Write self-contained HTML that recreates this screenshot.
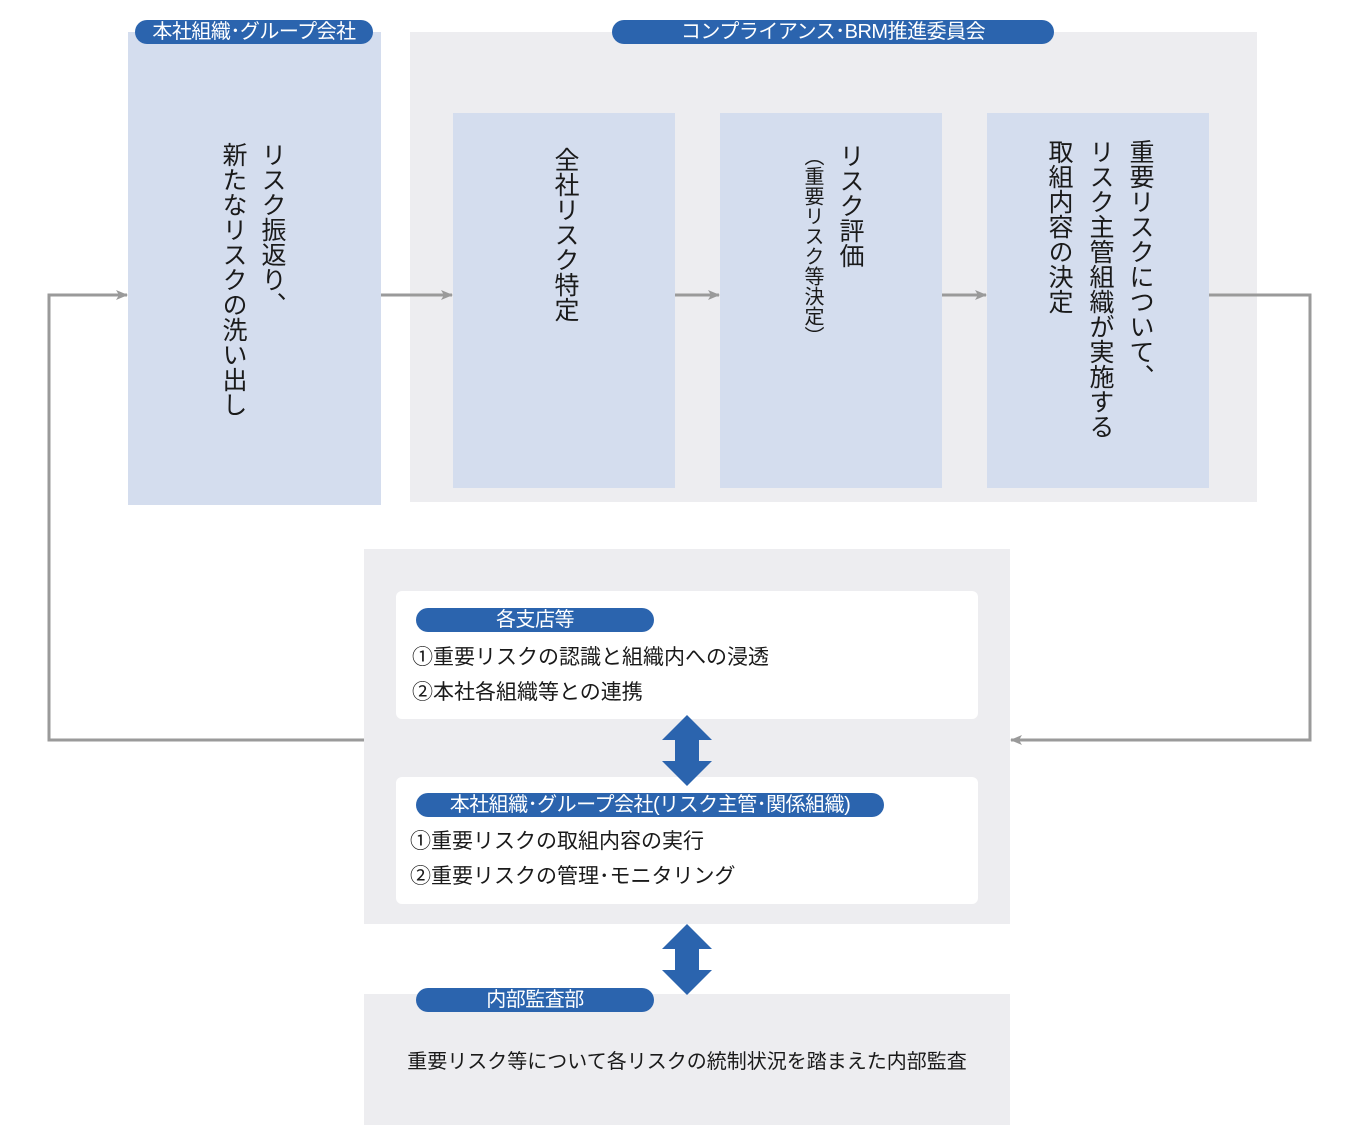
<!DOCTYPE html>
<html><head><meta charset="utf-8">
<style>
body{margin:0;width:1360px;height:1140px;background:#fff;position:relative;overflow:hidden;font-family:"Liberation Sans","Noto Sans CJK JP",sans-serif;color:#1a1a1a}
.a{position:absolute}
.blue{background:#d4ddee}
.gray{background:#ededf0}
.pill{position:absolute;background:#2b64ae;color:#fff;border-radius:12px;height:24px;line-height:24px;text-align:center;font-size:20px;white-space:nowrap;letter-spacing:-0.5px}
.v{position:absolute;writing-mode:vertical-rl;font-size:25px;line-height:26px;width:26px;white-space:nowrap}
.t{position:absolute;font-size:21px;white-space:nowrap;line-height:24px}
.w{position:absolute;background:#fff;border-radius:6px}
</style></head><body>
<div class="a blue" style="left:128px;top:32px;width:253px;height:473px"></div>
<div class="a gray" style="left:410px;top:32px;width:847px;height:470px"></div>
<div class="a blue" style="left:453px;top:113px;width:222px;height:375px"></div>
<div class="a blue" style="left:720px;top:113px;width:222px;height:375px"></div>
<div class="a blue" style="left:987px;top:113px;width:222px;height:375px"></div>
<div class="pill" style="left:135px;top:20px;width:238px">本社組織･グループ会社</div>
<div class="pill" style="left:612px;top:20px;width:442px">コンプライアンス･BRM推進委員会</div>

<div class="v" style="left:259px;top:142px">リスク振返り、</div>
<div class="v" style="left:220px;top:142px">新たなリスクの洗い出し</div>
<div class="v" style="left:552px;top:147px">全社リスク特定</div>
<div class="v" style="left:837px;top:143px">リスク評価</div>
<div class="v" style="left:801px;top:146px;font-size:20px;width:22px;line-height:22px">（重要リスク等決定）</div>
<div class="v" style="left:1127px;top:139px">重要リスクについて、</div>
<div class="v" style="left:1087px;top:139px">リスク主管組織が実施する</div>
<div class="v" style="left:1046px;top:139px">取組内容の決定</div>

<svg class="a" style="left:0;top:0" width="1360" height="1140">
<defs><marker id="m" markerWidth="12" markerHeight="10" refX="11" refY="5" orient="auto" markerUnits="userSpaceOnUse"><path d="M0,0 L12,5 L0,10 L3,5 Z" fill="#9a9a9a"/></marker></defs>
<g stroke="#9a9a9a" stroke-width="3" fill="none">
<line x1="381" y1="295" x2="452" y2="295" marker-end="url(#m)"/>
<line x1="675" y1="295" x2="719" y2="295" marker-end="url(#m)"/>
<line x1="942" y1="295" x2="986" y2="295" marker-end="url(#m)"/>
<polyline points="364,740 49,740 49,295 127,295" marker-end="url(#m)"/>
<polyline points="1209,295 1310,295 1310,740 1011,740" marker-end="url(#m)"/>
</g>
</svg>

<div class="a gray" style="left:364px;top:549px;width:646px;height:375px"></div>
<div class="w" style="left:396px;top:591px;width:582px;height:128px"></div>
<div class="w" style="left:396px;top:777px;width:582px;height:127px"></div>
<div class="a gray" style="left:364px;top:994px;width:646px;height:131px"></div>

<svg class="a" style="left:0;top:0" width="1360" height="1140">
<polygon points="687,715 712,740 699,740 699,761 712,761 687,786 662,761 675,761 675,740 662,740" fill="#2b64ae"/>
<polygon points="687,924 712,949 699,949 699,970 712,970 687,995 662,970 675,970 675,949 662,949" fill="#2b64ae"/>
</svg>

<div class="pill" style="left:416px;top:608px;width:238px">各支店等</div>
<div class="t" style="left:412px;top:646px">①重要リスクの認識と組織内への浸透</div>
<div class="t" style="left:412px;top:681px">②本社各組織等との連携</div>
<div class="pill" style="left:416px;top:793px;width:468px">本社組織･グループ会社(リスク主管･関係組織)</div>
<div class="t" style="left:410px;top:830px">①重要リスクの取組内容の実行</div>
<div class="t" style="left:410px;top:865px">②重要リスクの管理･モニタリング</div>
<div class="pill" style="left:416px;top:988px;width:238px">内部監査部</div>
<div class="t" style="left:364px;width:646px;text-align:center;top:1050px;font-size:20px">重要リスク等について各リスクの統制状況を踏まえた内部監査</div>
</body></html>
